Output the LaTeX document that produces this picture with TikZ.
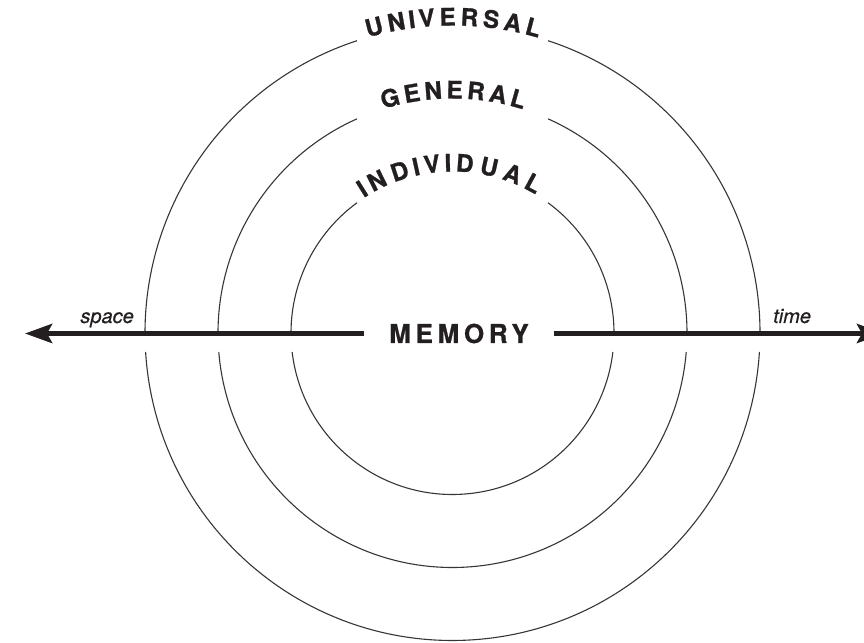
\documentclass[tikz,border=0pt]{standalone}
\usepackage{fontspec}
\setmainfont{TeX Gyre Heros}
\newfontfamily\heavyfont[FakeBold=1]{TeX Gyre Heros}
\newfontfamily\memfont[LetterSpace=18,FakeBold=0.8]{TeX Gyre Heros}
\newfontfamily\tagfont[FakeBold=0.5]{TeX Gyre Heros}
\newcommand{\arcletters}{\heavyfont\bfseries\fontsize{21pt}{21pt}\selectfont}
\usetikzlibrary{arrows.meta,decorations.text}
\definecolor{ink}{RGB}{35,31,32}
\tikzset{
  ring/.style={draw=ink!90,line width=1.1pt},
  ringlabel/.style={font=\arcletters,decorate,decoration={text effects along path,text={#1},
    text effects/.cd,text along path,fit text to path,characters={text=ink,font=\arcletters,scale=1.15}}},
  axis/.style={draw=ink,line width=5pt,-{Stealth[length=27pt,width=19pt,inset=5pt]}},
  tag/.style={text=ink,inner sep=0pt,font=\tagfont\itshape\fontsize{20pt}{20pt}\selectfont},
}
\begin{document}
\begin{tikzpicture}[x=1pt,y=1pt]
\clip (0,0) rectangle (864,642);
\fill[white] (0,0) rectangle (864,642);
\coordinate (c) at (452.5,309);

\foreach \r in {161.5,234.5,307.5}{
  \pgfmathsetmacro\gap{asin(19/\r)}
  \pgfmathsetmacro\open{acos(95.5/\r)}
  \draw[ring] ([shift={(180+\gap:\r)}]c) arc[start angle=180+\gap,end angle=360-\gap,radius=\r];
  \draw[ring] ([shift={(0:\r)}]c) arc[start angle=0,end angle=\open,radius=\r];
  \draw[ring] ([shift={(180-\open:\r)}]c) arc[start angle=180-\open,end angle=180,radius=\r];
}

\path[ringlabel=UNIVERSAL] ([shift={(106:307.5)}]c) arc[start angle=106,end angle=73.8,radius=307.5];
\path[ringlabel=GENERAL] ([shift={(107.2:234.5)}]c) arc[start angle=107.2,end angle=72.5,radius=234.5];
\path[ringlabel=INDIVIDUAL] ([shift={(123.3:161.5)}]c) arc[start angle=123.3,end angle=59,radius=161.5];

\node[text=ink,inner ysep=0pt,inner xsep=25pt,font=\memfont\bfseries\fontsize{26pt}{26pt}\selectfont] (memory) at (459,308.5) {MEMORY};
\coordinate (spacetip) at (25,308.5);
\coordinate (timetip) at (884,308.5);
\draw[axis] (memory.west) -- (spacetip);
\draw[axis] (memory.east) -- (timetip);

\node[tag,anchor=base east] (spacelabel) at (134,319) {space};
\node[tag,anchor=base west] (timelabel) at (773,319) {time};
\end{tikzpicture}
\end{document}
